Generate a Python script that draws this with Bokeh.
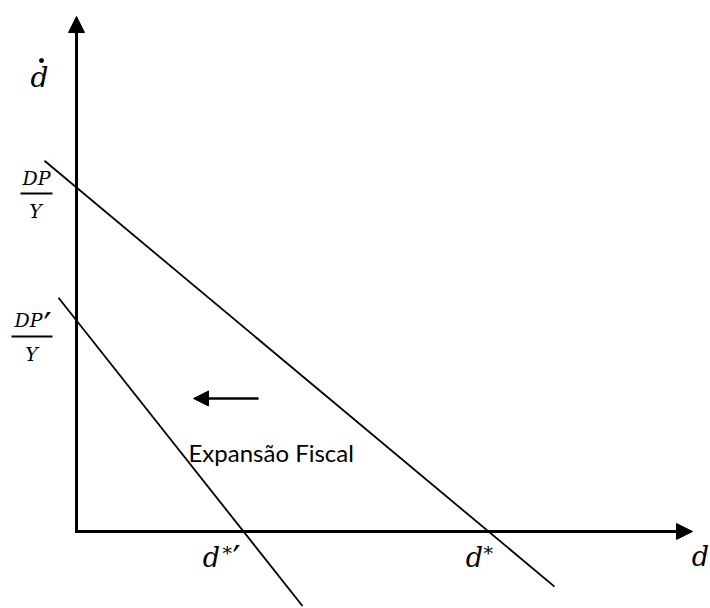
from bokeh.plotting import figure
from bokeh.models import Arrow, NormalHead, ColumnDataSource
from bokeh.core.properties import value
from bokeh.embed import file_html
from bokeh.resources import INLINE

# Debt dynamics diagram: d-dot against d, before and after a fiscal expansion
dp_over_y = 344          # vertical intercept of the original line (DP/Y)
dp_over_y_prime = 211    # vertical intercept after the expansion (DP'/Y)
d_star = 412             # steady-state debt ratio, original line
d_star_prime = 167       # steady-state debt ratio after the expansion

line1_x = [-32, 478]
line2_x = [-18, 226]

x_axis_end = 616
y_axis_end = 515

shift_arrow_x = [182, 117]
shift_arrow_y = 133

p = figure(width=710, height=608, x_range=(-76, 634), y_range=(-77, 531),
           output_backend="svg", toolbar_location=None, min_border=0)
p.axis.visible = False
p.grid.visible = False
p.outline_line_color = None
p.background_fill_color = "white"
p.border_fill_color = "white"


def line_y(xs, intercept, root):
    return [intercept * (1 - x / root) for x in xs]


p.line(line1_x, line_y(line1_x, dp_over_y, d_star), line_color="black", line_width=1.8)
p.line(line2_x, line_y(line2_x, dp_over_y_prime, d_star_prime), line_color="black", line_width=1.8)

# axes with arrow heads
p.add_layout(Arrow(x_start=0, y_start=0, x_end=0, y_end=y_axis_end, line_width=3,
                   end=NormalHead(size=16, fill_color="black", line_color="black")))
p.add_layout(Arrow(x_start=-1.5, y_start=0, x_end=x_axis_end, y_end=0, line_width=3,
                   end=NormalHead(size=16, fill_color="black", line_color="black")))

# shift arrow
p.add_layout(Arrow(x_start=shift_arrow_x[0], y_start=shift_arrow_y,
                   x_end=shift_arrow_x[1], y_end=shift_arrow_y, line_width=2.5,
                   end=NormalHead(size=15, fill_color="black", line_color="black")))

math_font = value("DejaVu Serif")

# main italic symbols
labels = ColumnDataSource(dict(
    x=[-37, -40, -41, -48, -45, 135, 398, 624],
    y=[454, 354, 321, 212, 178, -26, -26, -25],
    text=["d", "DP", "Y", "DP", "Y", "d", "d", "d"],
    size=["28px", "19px", "19px", "19px", "19px", "27px", "27px", "27px"],
))
p.text(x="x", y="y", text="text", source=labels, text_font=math_font,
       text_font_style="italic", text_font_size="size", text_align="center",
       text_baseline="alphabetic", text_color="black")

# asterisks on the steady-state labels
stars = ColumnDataSource(dict(x=[146, 407], y=[-21, -21], text=["*", "*"]))
p.text(x="x", y="y", text="text", source=stars, text_font=math_font,
       text_font_size="19px", text_align="left",
       text_baseline="alphabetic", text_color="black")

# primes
primes = ColumnDataSource(dict(x=[-29, 160], y=[206, -27], text=["′", "′"]))
p.text(x="x", y="y", text="text", source=primes, text_font=math_font,
       text_font_size="36px", text_align="center",
       text_baseline="alphabetic", text_color="black")

# time-derivative dot over d
p.scatter(x=[-35], y=[471], size=4, marker="circle", fill_color="black", line_color="black")

# fraction bars
p.segment(x0=[-56, -65], y0=[338, 195], x1=[-24, -24], y1=[338, 195],
          line_color="black", line_width=2)

p.text(x=[112], y=[79], text=["Expansão Fiscal"], text_font=value("Lato"),
       text_font_size="24px", text_align="left", text_baseline="alphabetic",
       text_color="black")

open("out.html", "w").write(file_html(p, INLINE))
